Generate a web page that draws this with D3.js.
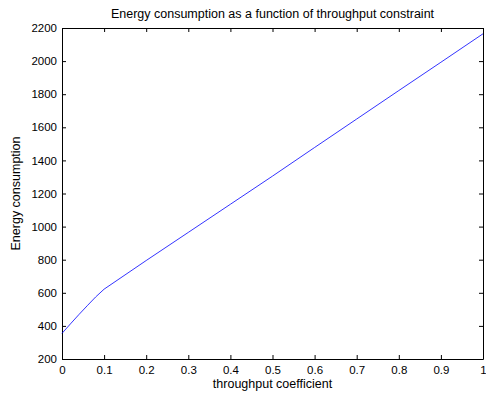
<!DOCTYPE html>
<html>
<head>
<meta charset="utf-8">
<script src="https://cdn.jsdelivr.net/npm/d3@7"></script>
<style>
  body { margin: 0; background: #fff; }
  svg { display: block; font-family: "Liberation Sans", Arial, sans-serif; }
</style>
</head>
<body>
<div id="chart"></div>
<script>
// data
const coef = [0, 0.02, 0.04, 0.06, 0.08, 0.1, 0.2, 0.3, 0.4, 0.5, 0.6, 0.7, 0.8, 0.9, 1.0];
const energy = [355, 412, 468, 522, 575, 622, 795, 965, 1135, 1305, 1478, 1650, 1822, 1993, 2165];
const xTicks = [0, 0.1, 0.2, 0.3, 0.4, 0.5, 0.6, 0.7, 0.8, 0.9, 1];
const yTicks = [200, 400, 600, 800, 1000, 1200, 1400, 1600, 1800, 2000, 2200];

const W = 486, H = 396;
const margin = { top: 28, left: 62, right: 3, bottom: 37 };
const width = W - margin.left - margin.right;
const height = H - margin.top - margin.bottom;

const svg = d3.select("#chart").append("svg")
  .attr("width", W)
  .attr("height", H);

const g = svg.append("g")
  .attr("transform", `translate(${margin.left}, ${margin.top})`);

const x = d3.scaleLinear().domain([0, 1]).range([0, width]);
const y = d3.scaleLinear().domain([200, 2200]).range([height, 0]);

const fmt = d => String(d);

// bottom + top axes, ticks pointing inward
g.append("g").attr("transform", `translate(0, ${height})`)
  .call(d3.axisBottom(x).tickValues(xTicks).tickFormat(fmt).tickSizeInner(-4).tickSizeOuter(0).tickPadding(7));
g.append("g")
  .call(d3.axisTop(x).tickValues(xTicks).tickFormat("").tickSizeInner(-4).tickSizeOuter(0));
g.append("g")
  .call(d3.axisLeft(y).tickValues(yTicks).tickFormat(fmt).tickSizeInner(-4).tickSizeOuter(0).tickPadding(5));
g.append("g").attr("transform", `translate(${width}, 0)`)
  .call(d3.axisRight(y).tickValues(yTicks).tickFormat("").tickSizeInner(-4).tickSizeOuter(0));

g.selectAll(".domain").attr("stroke", "#000");
g.selectAll(".tick line").attr("stroke", "#000");
g.selectAll(".tick text").attr("fill", "#000").style("font-size", "11.5px")
  .style("font-family", "'Liberation Sans', Arial, sans-serif");

// line
const pts = coef.map((c, i) => [c, energy[i]]);
g.append("path")
  .datum(pts)
  .attr("fill", "none")
  .attr("stroke", "#0000ff")
  .attr("stroke-width", 0.8)
  .attr("d", d3.line().x(d => x(d[0])).y(d => y(d[1])));

// labels
svg.append("text")
  .attr("x", margin.left + width / 2).attr("y", 18)
  .attr("text-anchor", "middle").style("font-size", "12.5px")
  .text("Energy consumption as a function of throughput constraint");

svg.append("text")
  .attr("x", margin.left + width / 2).attr("y", 388)
  .attr("text-anchor", "middle").style("font-size", "12.5px")
  .text("throughput coefficient");

svg.append("text")
  .attr("transform", `translate(20, ${margin.top + height / 2}) rotate(-90)`)
  .attr("text-anchor", "middle").style("font-size", "12.5px")
  .text("Energy consumption");
</script>
</body>
</html>
